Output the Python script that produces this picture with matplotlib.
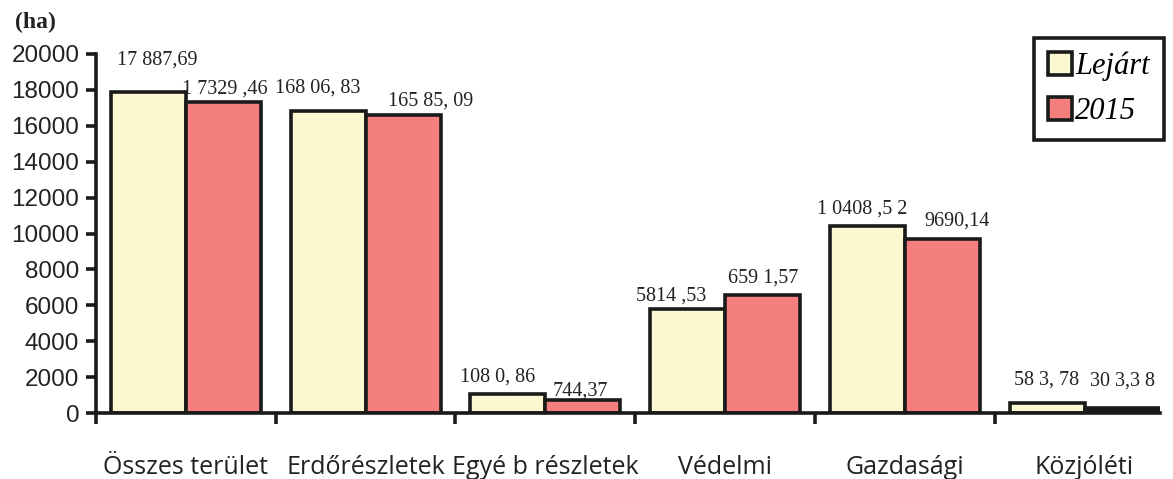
import matplotlib.pyplot as plt

# Area data (ha): expired plans vs 2015
categories = ["Összes terület", "Erdőrészletek", "Egyé b részletek", "Védelmi", "Gazdasági", "Közjóléti"]
lejart = [17887.69, 16806.83, 1080.86, 5814.53, 10408.52, 583.78]
ev2015 = [17329.46, 16585.09, 744.37, 6591.57, 9690.14, 303.38]
# value labels as printed on the original chart
lejart_labels = ["17 887,69", "168 06, 83", "108 0, 86", "5814 ,53", "1 0408 ,5 2", "58 3, 78"]
ev2015_labels = ["1 7329 ,46", "165 85, 09", "744,37", "659 1,57", "9690,14", "30 3,3 8"]
yticks = [0, 2000, 4000, 6000, 8000, 10000, 12000, 14000, 16000, 18000, 20000]

# label offsets in pixels (dx, dy above bar top)
lejart_off = [(9, 32), (-10, 23), (-10, 17), (-16, 13), (-5, 17), (0, 22)]
ev2015_off = [(1, 13), (28, 14), (-2, 9), (1, 17), (15, 18), (1, 27)]

c_lejart = "#FCF9D2"
c_2015 = "#F47F7E"
ink = "#1a1a1a"

fig = plt.figure(figsize=(11.73, 4.79), dpi=100)
ax = fig.add_axes([96 / 1173, 66 / 479, 1064 / 1173, 359 / 479])

w = 0.417
x = range(len(categories))
b1 = ax.bar([i - w / 2 for i in x], lejart, w, color=c_lejart, edgecolor=ink, linewidth=2.6, label="Lejárt")
b2 = ax.bar([i + w / 2 for i in x], ev2015, w, color=c_2015, edgecolor=ink, linewidth=2.6, label="2015")
# the last 2015 bar shows up as a solid dark strip in the original
b2[-1].set_facecolor(ink)

for bars, labels, offs in [(b1, lejart_labels, lejart_off), (b2, ev2015_labels, ev2015_off)]:
    for rect, txt, (dx, dy) in zip(bars, labels, offs):
        ax.annotate(txt, (rect.get_x() + rect.get_width() / 2, rect.get_height()),
                    xytext=(dx, dy), textcoords="offset pixels", ha="center", va="center",
                    family="Liberation Serif", fontsize=14.5, color="#222222")

ax.set_xlim(-0.5, 5.42)
ax.set_ylim(0, 20000)
ax.set_yticks(yticks)
ax.set_yticklabels([str(v) for v in yticks], family="Liberation Sans", fontsize=17.5, color="#222222")

ax.set_xticks([i - 0.5 for i in range(len(categories))])
ax.set_xticklabels([])
ax.set_xticks(list(x), minor=True)
ax.set_xticklabels(categories, minor=True, family="Open Sans", fontsize=18, color="#222222")
ax.tick_params(axis="x", which="major", direction="out", length=8, width=2.6, color=ink)
ax.tick_params(axis="x", which="minor", length=0, pad=30)
ax.tick_params(axis="y", direction="out", length=7, width=2.6, color=ink, pad=5)

for s in ["top", "right"]:
    ax.spines[s].set_visible(False)
for s in ["left", "bottom"]:
    ax.spines[s].set_linewidth(2.6)
    ax.spines[s].set_color(ink)

fig.text(15 / 1173, 1 - 22 / 479, "(ha)", family="Liberation Serif", fontweight="bold",
         fontsize=17, va="center", ha="left", color="#222222")

leg = fig.legend(handles=[b1, b2], loc="upper left", bbox_to_anchor=(1034 / 1173, 1 - 38 / 479),
                 frameon=True, fancybox=False, edgecolor=ink, framealpha=1,
                 prop={"family": "Liberation Serif", "style": "italic", "size": 22},
                 handlelength=0.8, handleheight=0.8, handletextpad=0.1, labelspacing=0.5,
                 borderpad=0.45, borderaxespad=0)
leg.get_frame().set_linewidth(2.6)

fig.savefig("out.png", dpi=100)
